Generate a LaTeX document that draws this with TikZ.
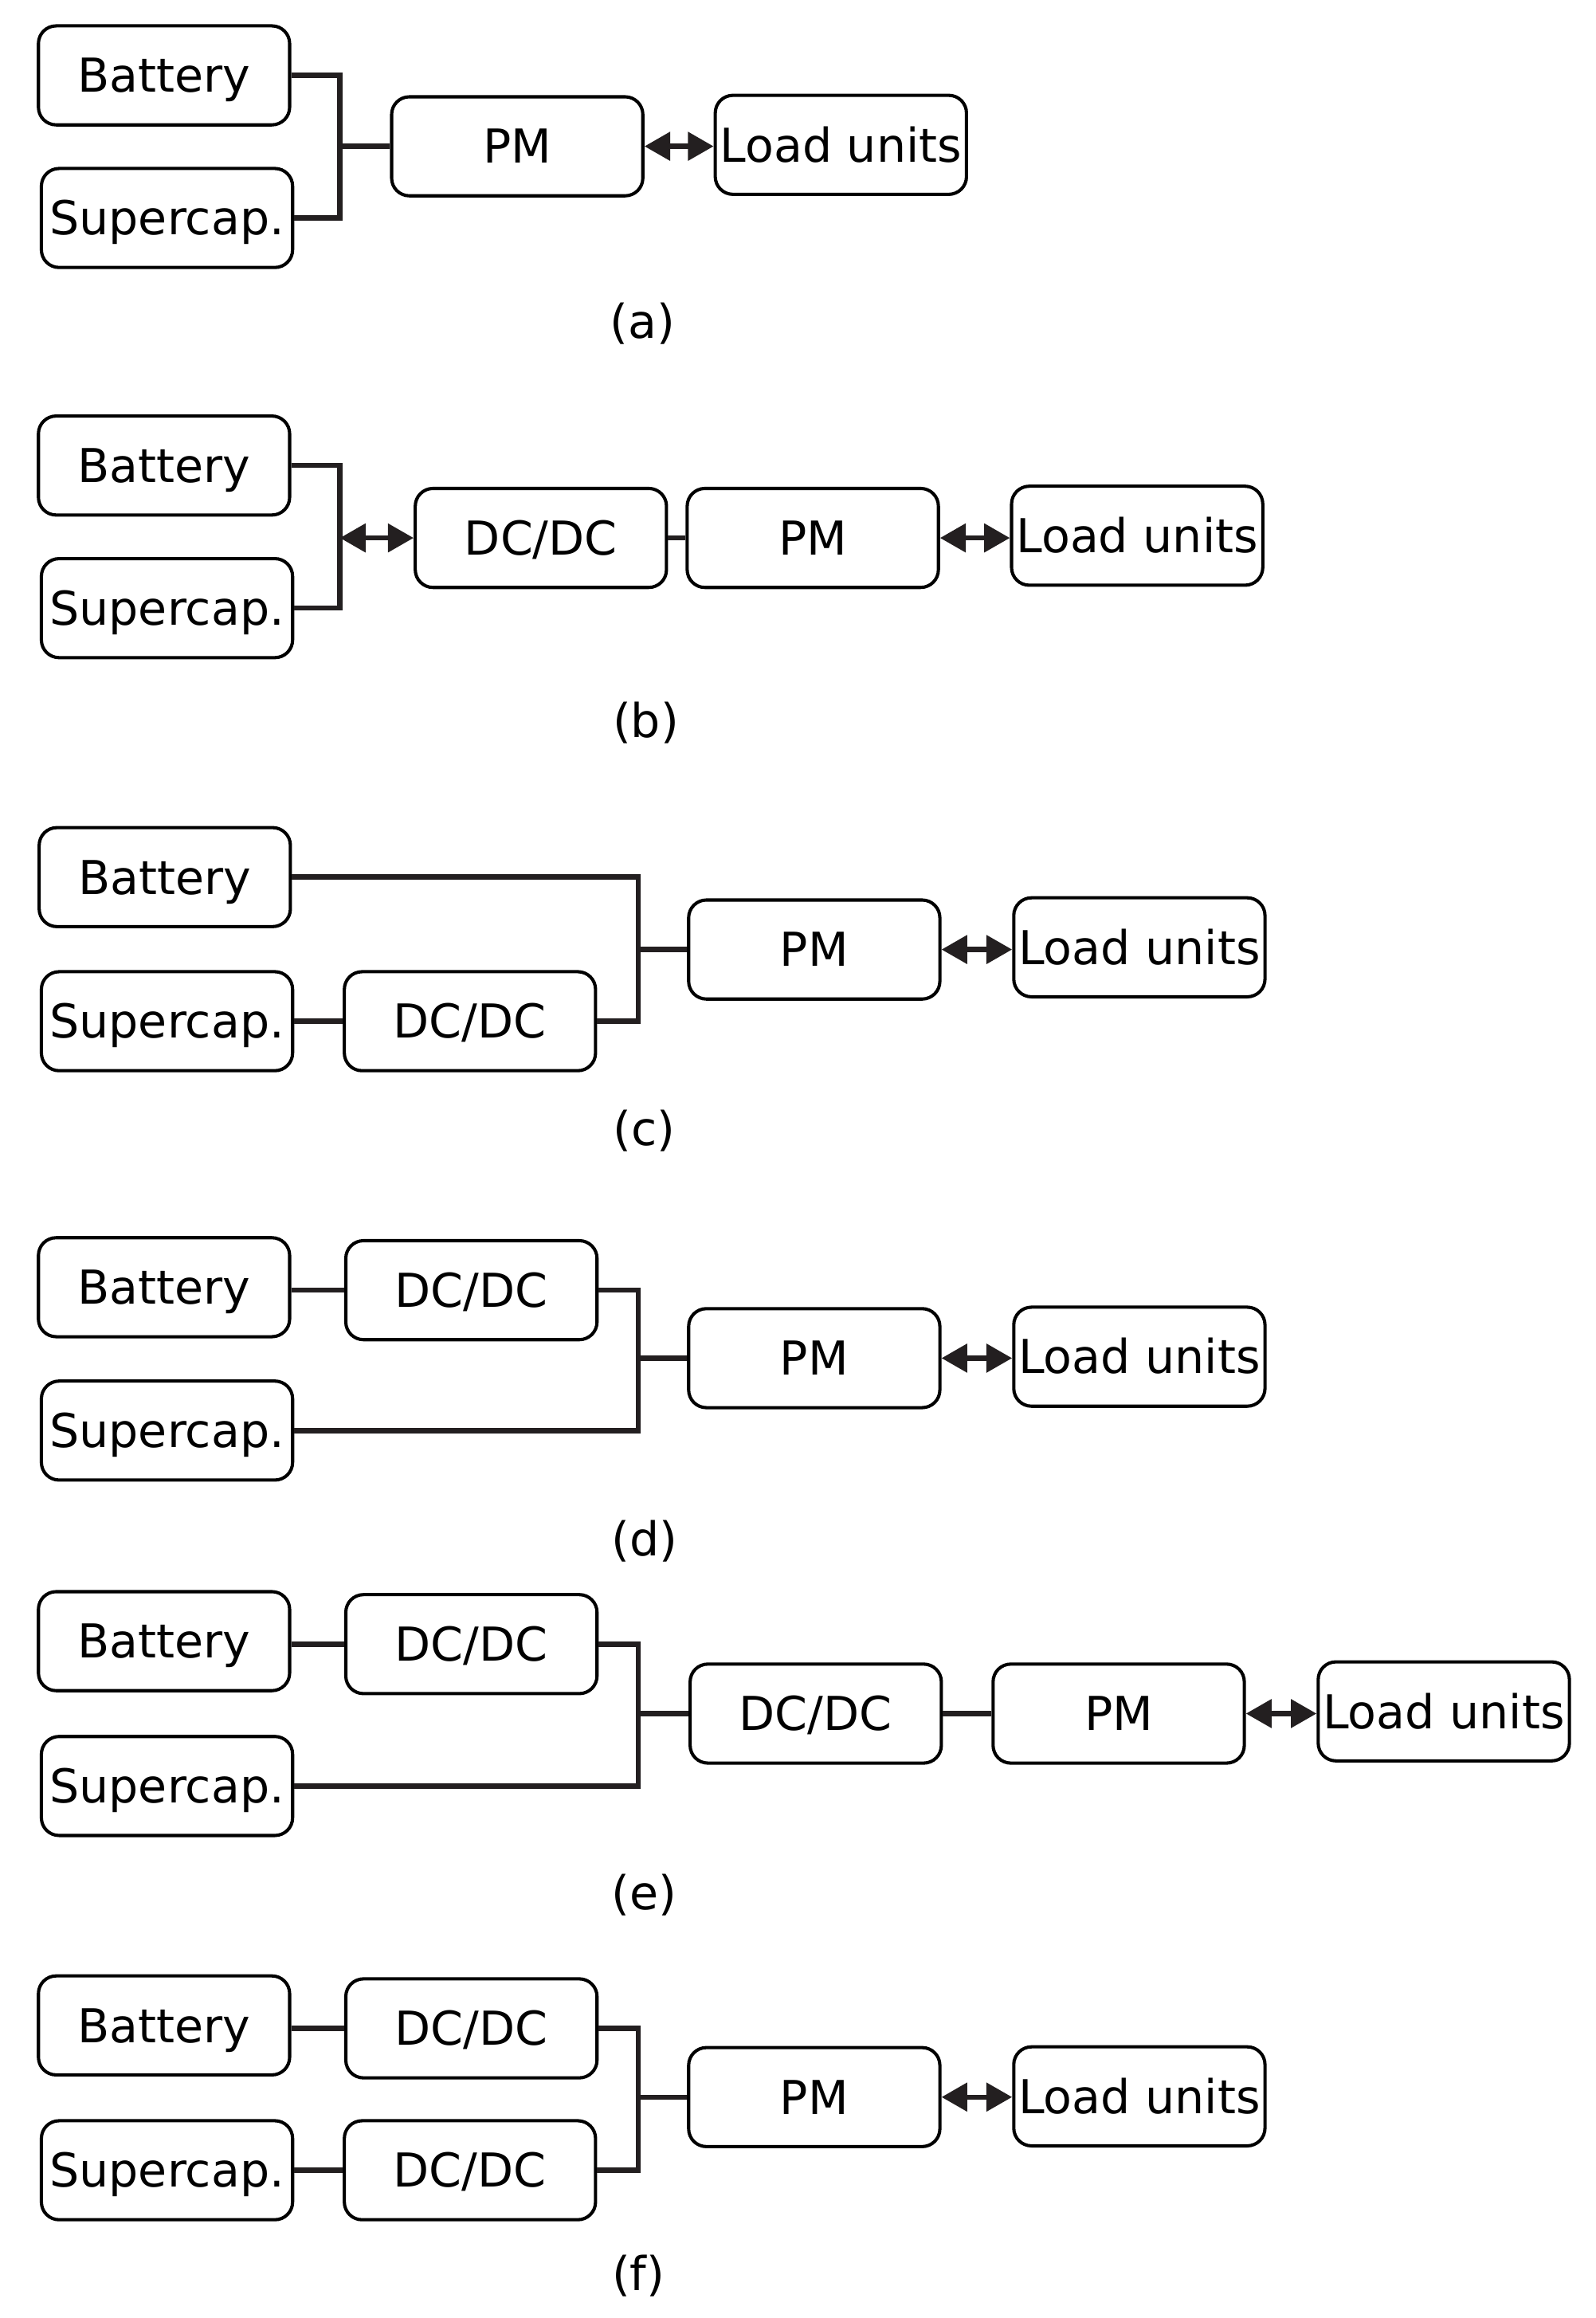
\documentclass[tikz,border=0pt]{standalone}
\usepackage{fontspec}
\setmainfont{DejaVu Sans}
\usetikzlibrary{arrows.meta}
\definecolor{ln}{HTML}{231F20}
\begin{document}
\begin{tikzpicture}[x=0.5pt,y=-0.5pt,
  box/.style={draw=black, line width=1.1pt, rounded corners=6pt, minimum width=85pt, minimum height=33.5pt, inner sep=0pt, text height=11.5pt, text depth=0pt, font=\fontsize{15.8}{19}\selectfont},
  conn/.style={draw=ln, line width=1.75pt, line join=miter},
  biarrow/.style={draw=ln, line width=1.75pt, {Triangle[length=8.7pt,width=9.4pt]}-{Triangle[length=8.7pt,width=9.4pt]}},
  lab/.style={font=\fontsize{15.8}{19}\selectfont, inner sep=0pt}]
\useasboundingbox (0,0) rectangle (1080,1568.5);

% ---------- (a)
\node[box] (a-bat) at (111,51) {Battery};
\node[box] (a-sup) at (113,147.5) {Supercap.};
\node[box] (a-pm) at (350,99) {PM};
\node[box] (a-load) at (569,98) {Load units};
\coordinate (a-j) at (230,99);
\draw[conn] (a-bat.east) -| (a-j) |- (a-sup.east);
\draw[conn] (a-j) -- (a-pm.west);
\draw[biarrow] (a-pm.east) -- (a-pm.east -| a-load.west);
\node[lab] (a-lab) at (435,219) {(a)};

% ---------- (b)
\node[box] (b-bat) at (111,315) {Battery};
\node[box] (b-sup) at (113,411.5) {Supercap.};
\node[box] (b-dc) at (366,364) {DC/DC};
\node[box] (b-pm) at (550,364) {PM};
\node[box] (b-load) at (769.5,362.5) {Load units};
\coordinate (b-j) at (230,364);
\draw[conn] (b-bat.east) -| (b-j) |- (b-sup.east);
\draw[biarrow] (b-j) -- (b-dc.west);
\draw[conn] (b-dc.east) -- (b-pm.west);
\draw[biarrow] (b-pm.east) -- (b-pm.east -| b-load.west);
\node[lab] (b-lab) at (437,489) {(b)};

% ---------- (c)
\node[box] (c-bat) at (111.5,593.5) {Battery};
\node[box] (c-sup) at (113,691) {Supercap.};
\node[box] (c-dc) at (318,691) {DC/DC};
\node[box] (c-pm) at (551,642.5) {PM};
\node[box] (c-load) at (771,641) {Load units};
\coordinate (c-j) at (432,642.5);
\draw[conn] (c-sup.east) -- (c-dc.west);
\draw[conn] (c-bat.east) -| (c-j) |- (c-dc.east);
\draw[conn] (c-j) -- (c-pm.west);
\draw[biarrow] (c-pm.east) -- (c-pm.east -| c-load.west);
\node[lab] (c-lab) at (436,765) {(c)};

% ---------- (d)
\node[box] (d-bat) at (111,871) {Battery};
\node[box] (d-dc) at (319,873) {DC/DC};
\node[box] (d-sup) at (113,968) {Supercap.};
\node[box] (d-pm) at (551,919) {PM};
\node[box] (d-load) at (771,918) {Load units};
\coordinate (d-j) at (432,919);
\draw[conn] (d-dc.west -| d-bat.east) -- (d-dc.west);
\draw[conn] (d-dc.east) -| (d-j) |- (d-sup.east);
\draw[conn] (d-j) -- (d-pm.west);
\draw[biarrow] (d-pm.east) -- (d-pm.east -| d-load.west);
\node[lab] (d-lab) at (436,1043) {(d)};

% ---------- (e)
\node[box] (e-bat) at (111,1110.5) {Battery};
\node[box] (e-dc1) at (319,1112.5) {DC/DC};
\node[box] (e-sup) at (113,1208.5) {Supercap.};
\node[box] (e-dc2) at (552,1159.5) {DC/DC};
\node[box] (e-pm) at (757,1159.5) {PM};
\node[box] (e-load) at (977,1158) {Load units};
\coordinate (e-j) at (432,1159.5);
\draw[conn] (e-dc1.west -| e-bat.east) -- (e-dc1.west);
\draw[conn] (e-dc1.east) -| (e-j) |- (e-sup.east);
\draw[conn] (e-j) -- (e-dc2.west);
\draw[conn] (e-dc2.east) -- (e-pm.west);
\draw[biarrow] (e-pm.east) -- (e-pm.east -| e-load.west);
\node[lab] (e-lab) at (436,1282) {(e)};

% ---------- (f)
\node[box] (f-bat) at (111,1370.5) {Battery};
\node[box] (f-dc1) at (319,1372.5) {DC/DC};
\node[box] (f-sup) at (113,1468.5) {Supercap.};
\node[box] (f-dc2) at (318,1468.5) {DC/DC};
\node[box] (f-pm) at (551,1419) {PM};
\node[box] (f-load) at (771,1418.5) {Load units};
\coordinate (f-j) at (432,1419);
\draw[conn] (f-dc1.west -| f-bat.east) -- (f-dc1.west);
\draw[conn] (f-sup.east) -- (f-dc2.west);
\draw[conn] (f-dc1.east) -| (f-j) |- (f-dc2.east);
\draw[conn] (f-j) -- (f-pm.west);
\draw[biarrow] (f-pm.east) -- (f-pm.east -| f-load.west);
\node[lab] (f-lab) at (432,1540) {(f)};
\end{tikzpicture}
\end{document}
